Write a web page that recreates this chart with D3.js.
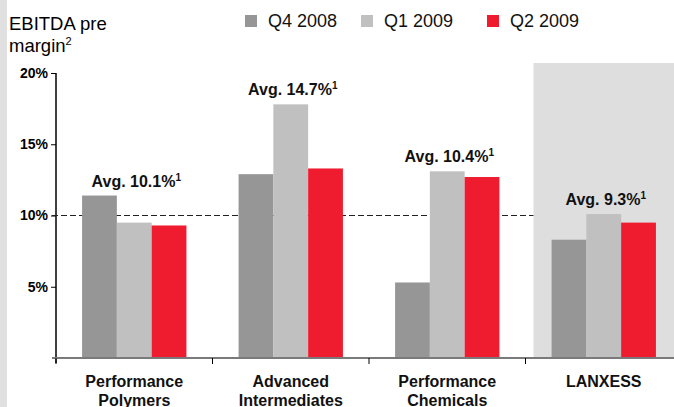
<!DOCTYPE html>
<html>
<head>
<meta charset="utf-8">
<script src="https://cdn.jsdelivr.net/npm/d3@7"></script>
<style>
  body { margin: 0; background: #fff; }
  svg { display: block; font-family: "Liberation Sans", Arial, sans-serif; }
</style>
</head>
<body>
<div id="chart"></div>
<script>
// data
var categories = ["Performance Polymers", "Advanced Intermediates", "Performance Chemicals", "LANXESS"]
var catLines = [["Performance", "Polymers"], ["Advanced", "Intermediates"], ["Performance", "Chemicals"], ["LANXESS"]]
var series = ["Q4 2008", "Q1 2009", "Q2 2009"]
var q4_2008 = [11.4, 12.9, 5.3, 8.3]
var q1_2009 = [9.5, 17.8, 13.1, 10.1]
var q2_2009 = [9.3, 13.3, 12.7, 9.5]
var averages = ["10.1", "14.7", "10.4", "9.3"]
var yTicks = [5, 10, 15, 20]
var refLine = 10

drawChart()

function drawChart() {
	const W = 674, H = 407
	var svg = d3.select("#chart").append("svg")
		.attr("width", W)
		.attr("height", H)

	const colorScale = d3.scaleOrdinal()
		.domain(series)
		.range(["#969696", "#c0c0c0", "#ee1c2e"])

	var data = categories.map((c, i) => ({
		name: c,
		values: [q4_2008[i], q1_2009[i], q2_2009[i]].map((v, j) => ({ key: series[j], value: v }))
	}))

	const left = 56, bandW = 156.5
	const x0 = d3.scaleBand()
		.domain(categories)
		.range([left, left + bandW * categories.length])
		.padding(0)
	const x1 = d3.scaleBand()
		.domain(series)
		.range([x0.bandwidth() / 6, x0.bandwidth() * 5 / 6])
	const y = d3.scaleLinear()
		.domain([0, 20])
		.range([358, 73])

	// left grey strip of the slide
	svg.append("rect")
		.attr("x", 0).attr("y", 0)
		.attr("width", 7).attr("height", H)
		.style("fill", "#e0e0e0")

	// grey highlight behind LANXESS
	var lxX = x0("LANXESS") + 8
	svg.append("rect")
		.attr("x", lxX)
		.attr("y", y(20) - 10)
		.attr("width", W - lxX)
		.attr("height", y(0) - y(20) + 10)
		.style("fill", "#dedede")

	// title
	var title = svg.append("text")
		.attr("x", 9)
		.attr("y", 30)
		.style("font-size", "18.5px")
		.style("fill", "#000")
	title.append("tspan").text("EBITDA pre")
	title.append("tspan").attr("x", 9).attr("dy", 22).text("margin")
	title.append("tspan").attr("dy", -7).style("font-size", "11px").text("2")

	// legend
	var legendX = [245, 361, 487]
	var lg = svg.append("g").attr("class", "legend")
		.selectAll("g")
		.data(series)
		.enter()
		.append("g")
		.attr("transform", (d, i) => `translate(${legendX[i]},15)`)
	lg.append("rect")
		.attr("width", 12).attr("height", 12)
		.style("fill", d => colorScale(d))
	lg.append("text")
		.attr("x", 23)
		.attr("y", 12)
		.text(d => d)
		.style("font-size", "18px")
		.style("fill", "#111")

	// y axis
	var gY = svg.append("g")
		.attr("class", "VerticalAxis")
		.attr("transform", `translate(${left},0)`)
		.call(d3.axisLeft(y).tickValues(yTicks).tickSize(5).tickPadding(3).tickFormat(d => d + "%"))
	gY.select(".domain").remove()
	gY.selectAll(".tick line").style("stroke", "#000")
	gY.selectAll(".tick text")
		.style("font-size", "14px")
		.style("font-weight", "bold")
		.style("fill", "#000")
		.style("font-family", "'Liberation Sans', Arial, sans-serif")
	gY.append("line")
		.attr("x1", 0).attr("x2", 0)
		.attr("y1", y(20)).attr("y2", y(0) + 5)
		.style("stroke", "#000")
		.style("stroke-width", 1.5)

	// dashed 10% line
	svg.append("line")
		.attr("x1", left - 4).attr("x2", lxX)
		.attr("y1", y(refLine)).attr("y2", y(refLine))
		.style("stroke", "#222")
		.style("stroke-width", 1.2)
		.style("stroke-dasharray", "6,3")

	// bars
	var groups = svg.append("g").attr("class", "bars")
		.selectAll("g")
		.data(data)
		.enter()
		.append("g")
		.attr("transform", d => `translate(${x0(d.name)},0)`)
	groups.selectAll("rect")
		.data(d => d.values)
		.enter()
		.append("rect")
		.attr("x", d => x1(d.key))
		.attr("y", d => y(d.value))
		.attr("width", x1.bandwidth())
		.attr("height", d => y(0) - y(d.value))
		.style("fill", d => colorScale(d.key))

	// average labels
	var avg = groups.append("text")
		.attr("x", x0.bandwidth() / 2 + 2)
		.attr("y", d => y(d3.max(d.values, v => v.value)) - 9)
		.attr("text-anchor", "middle")
		.style("font-size", "16px")
		.style("font-weight", "bold")
		.style("fill", "#111")
	avg.append("tspan").text((d, i) => "Avg. " + averages[i] + "%")
	avg.append("tspan").attr("dy", -6).style("font-size", "10px").text("1")
	avg.append("tspan").attr("dy", 6).text("")

	// baseline and category ticks
	svg.append("line")
		.attr("x1", left - 4).attr("x2", W)
		.attr("y1", y(0)).attr("y2", y(0))
		.style("stroke", "#7a7a7a")
		.style("stroke-width", 2)
	svg.append("g").selectAll("line")
		.data(categories)
		.enter()
		.append("line")
		.attr("x1", d => x0(d)).attr("x2", d => x0(d))
		.attr("y1", y(0)).attr("y2", y(0) + 6)
		.style("stroke", "#000")

	// category labels
	svg.append("g").attr("class", "catlabels")
		.selectAll("text")
		.data(categories)
		.enter()
		.append("text")
		.attr("text-anchor", "middle")
		.attr("transform", d => `translate(${x0(d) + x0.bandwidth() / 2},387)`)
		.style("font-size", "16px")
		.style("font-weight", "bold")
		.style("fill", "#111")
		.each(function(d, i) {
			var t = d3.select(this)
			catLines[i].forEach((ln, k) => {
				t.append("tspan").attr("x", 0).attr("y", k * 19).text(ln)
			})
		})
}
</script>
</body>
</html>
